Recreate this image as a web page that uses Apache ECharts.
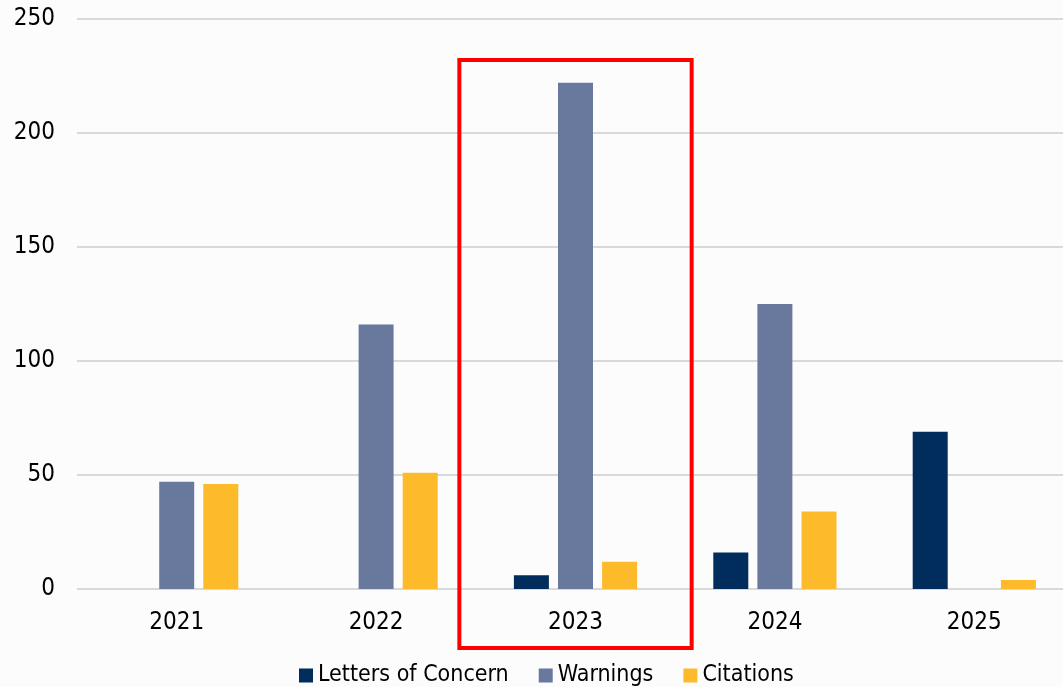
<!DOCTYPE html>
<html>
<head>
<meta charset="utf-8">
<script src="https://cdn.jsdelivr.net/npm/echarts@6/dist/echarts.min.js"></script>
<style>
html,body{margin:0;padding:0;background:#fcfcfc;overflow:hidden;width:1063px;height:687px;}
#c{width:1075px;height:687px;}
</style>
</head>
<body>
<div id="c"></div>
<script>
const categories = ['2021', '2022', '2023', '2024', '2025'];
const lettersOfConcern = [0, 0, 6, 16, 69];
const warnings = [47, 116, 222, 125, 0];
const citations = [46, 51, 12, 34, 4];
const seriesNames = ['Letters of Concern', 'Warnings', 'Citations'];
const yTicks = [0, 50, 100, 150, 200, 250];

const FONT = '"DejaVu Sans Condensed", "DejaVu Sans", Tahoma, sans-serif';
const chart = echarts.init(document.getElementById('c'), null, {renderer: 'canvas'});
const option = {
  backgroundColor: '#fcfcfc',
  animation: false,
  grid: {left: 77, right: 1, top: 19, bottom: 98, containLabel: false},
  legend: {
    bottom: -5, left: 294,
    itemWidth: 14, itemHeight: 14, itemGap: 30,
    icon: 'rect',
    textStyle: {fontFamily: FONT, fontSize: 23, color: '#000'},
    data: seriesNames
  },
  xAxis: {
    type: 'category', data: categories,
    axisLine: {show: false}, axisTick: {show: false},
    axisLabel: {fontFamily: FONT, fontSize: 24, color: '#000', margin: 22}
  },
  yAxis: {
    type: 'value', min: yTicks[0], max: yTicks[yTicks.length - 1], interval: 50,
    axisLine: {show: false}, axisTick: {show: false},
    axisLabel: {fontFamily: FONT, fontSize: 24, color: '#000', margin: 22},
    splitLine: {lineStyle: {color: '#d9d9d9', width: 2}}
  },
  series: [
    {name: seriesNames[0], type: 'bar', data: lettersOfConcern, barWidth: 35, barGap: '26%', itemStyle: {color: '#002d5c'}},
    {name: seriesNames[1], type: 'bar', data: warnings, barWidth: 35, barGap: '26%', itemStyle: {color: '#69799e'}},
    {name: seriesNames[2], type: 'bar', data: citations, barWidth: 35, barGap: '26%', itemStyle: {color: '#fdbb2c'}}
  ]
};
chart.setOption(option);

// red highlight box around the 2023 category
const pTop = chart.convertToPixel({gridIndex: 0}, ['2023', 232]);
const catW = chart.convertToPixel({xAxisIndex: 0}, '2024') - chart.convertToPixel({xAxisIndex: 0}, '2023');
const boxW = catW * 1.165;
chart.setOption({
  graphic: [{
    type: 'rect',
    shape: {x: pTop[0] - boxW / 2, y: pTop[1], width: boxW, height: 588},
    style: {fill: 'none', stroke: '#ff0000', lineWidth: 4},
    z: 100
  }]
});
</script>
</body>
</html>
